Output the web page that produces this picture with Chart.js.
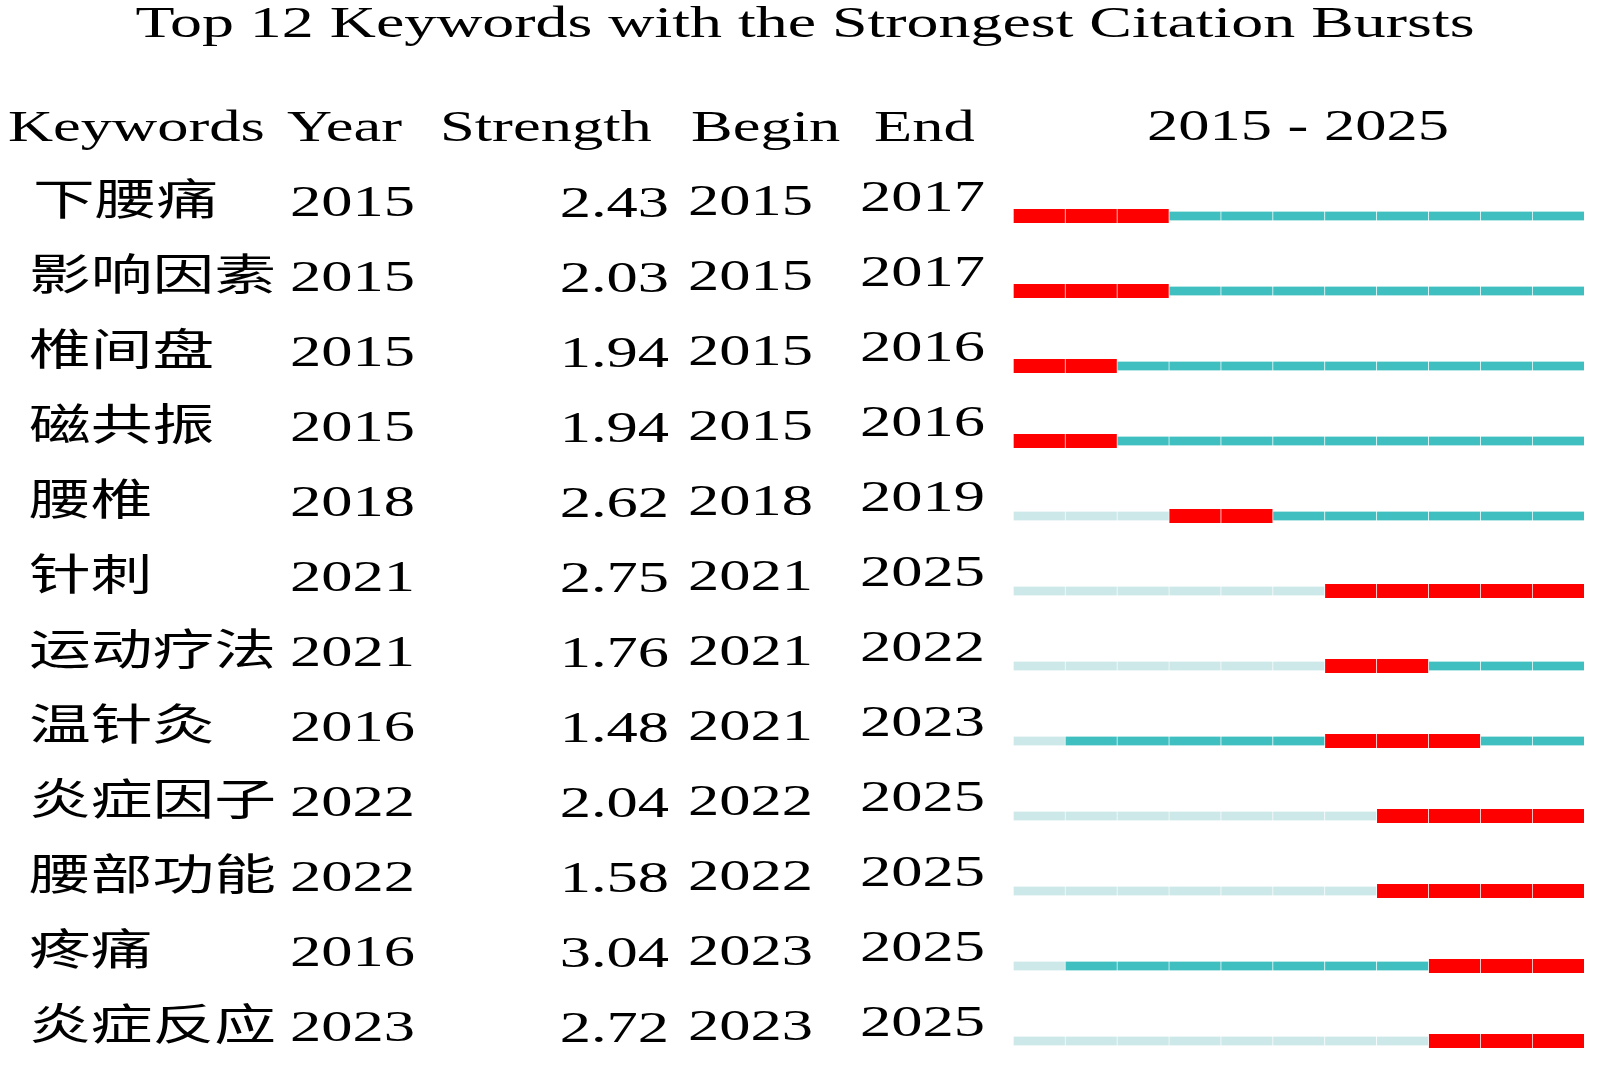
<!DOCTYPE html>
<html lang="zh-CN">
<head>
    <meta charset="UTF-8">
    <title>Top 12 Keywords with the Strongest Citation Bursts</title>
    <script src="https://cdn.jsdelivr.net/npm/chart.js"></script>
    <style>
        html, body { margin: 0; padding: 0; background: #ffffff; }
        canvas { display: block; }
    </style>
</head>
<body>
    <canvas id="burstChart" width="1600" height="1069"></canvas>

    <script>
        // Dados
        const keywords  = ['下腰痛', '影响因素', '椎间盘', '磁共振', '腰椎', '针刺', '运动疗法', '温针灸', '炎症因子', '腰部功能', '疼痛', '炎症反应'];
        const years     = [2015, 2015, 2015, 2015, 2018, 2021, 2021, 2016, 2022, 2022, 2016, 2023];
        const strengths = ['2.43', '2.03', '1.94', '1.94', '2.62', '2.75', '1.76', '1.48', '2.04', '1.58', '3.04', '2.72'];
        const begins    = [2015, 2015, 2015, 2015, 2018, 2021, 2021, 2021, 2022, 2022, 2023, 2023];
        const ends      = [2017, 2017, 2016, 2016, 2019, 2025, 2022, 2023, 2025, 2025, 2025, 2025];
        const headers   = ['Keywords', 'Year', 'Strength', 'Begin', 'End'];
        const firstYear = 2015;
        const lastYear  = 2025;

        const RED = '#ff0000';
        const TEAL = '#3fbfc0';
        const LIGHT = '#cde8e8';

        // Uma célula por ano, separada por estado
        const lightCells = [], tealCells = [], redCells = [];
        keywords.forEach((k, i) => {
            for (let yr = firstYear; yr <= lastYear; yr++) {
                const cell = { y: k, x: [yr, yr + 1] };
                if (yr < years[i]) lightCells.push(cell);
                else if (yr >= begins[i] && yr <= ends[i]) redCells.push(cell);
                else tealCells.push(cell);
            }
        });

        // A figura original está esticada na horizontal
        const SX = 1.42;
        const SERIF = '"Liberation Serif", "Times New Roman", serif';
        const CJK = '"Noto Sans CJK SC", sans-serif';

        function texto(ctx, str, x, y, align, font, baseline) {
            ctx.save();
            ctx.font = font;
            ctx.textAlign = align;
            ctx.textBaseline = baseline || 'alphabetic';
            ctx.fillStyle = '#000000';
            ctx.scale(SX, 1);
            ctx.fillText(str, x / SX, y);
            ctx.restore();
        }

        const tabelaPlugin = {
            id: 'tabela',
            afterDraw(chart) {
                const ctx = chart.ctx;
                const yScale = chart.scales.y;

                texto(ctx, 'Top 12 Keywords with the Strongest Citation Bursts', 805, 37, 'center', '45px ' + SERIF);

                const hx = [8, 287, 440, 691, 874];
                headers.forEach((h, j) => texto(ctx, h, hx[j], 141, 'left', '44px ' + SERIF));
                texto(ctx, firstYear + ' - ' + lastYear, 1147, 140, 'left', '44px ' + SERIF);

                keywords.forEach((k, i) => {
                    const cy = yScale.getPixelForValue(i);
                    texto(ctx, k, i === 0 ? 33 : 29, cy - 18, 'left', '43.5px ' + CJK, 'middle');
                    texto(ctx, String(years[i]), 290, cy, 'left', '44px ' + SERIF);
                    texto(ctx, strengths[i], 669, cy + 1, 'right', '44px ' + SERIF);
                    texto(ctx, String(begins[i]), 688, cy - 1, 'left', '44px ' + SERIF);
                    texto(ctx, String(ends[i]), 860, cy - 5, 'left', '44px ' + SERIF);
                });
            }
        };

        function celulas(data, cor, espessura) {
            return {
                data: data,
                backgroundColor: cor,
                borderColor: 'rgba(255,255,255,0.12)',
                borderWidth: { left: 1, right: 0, top: 0, bottom: 0 },
                borderSkipped: false,
                barThickness: espessura,
                grouped: false,
                clip: false
            };
        }

        const ctx = document.getElementById('burstChart').getContext('2d');
        new Chart(ctx, {
            type: 'bar',
            data: {
                labels: keywords,
                datasets: [
                    celulas(lightCells, LIGHT, 9),
                    celulas(tealCells, TEAL, 9),
                    celulas(redCells, RED, 14)
                ]
            },
            options: {
                indexAxis: 'y',
                responsive: false,
                animation: false,
                devicePixelRatio: 1,
                layout: { padding: { left: 1013, right: 16, top: 216, bottom: 28 } },
                scales: {
                    x: { type: 'linear', min: firstYear, max: lastYear + 1, display: false },
                    y: { type: 'category', offset: false, display: false }
                },
                plugins: {
                    legend: { display: false },
                    tooltip: { enabled: false }
                }
            },
            plugins: [tabelaPlugin]
        });
    </script>
</body>
</html>
